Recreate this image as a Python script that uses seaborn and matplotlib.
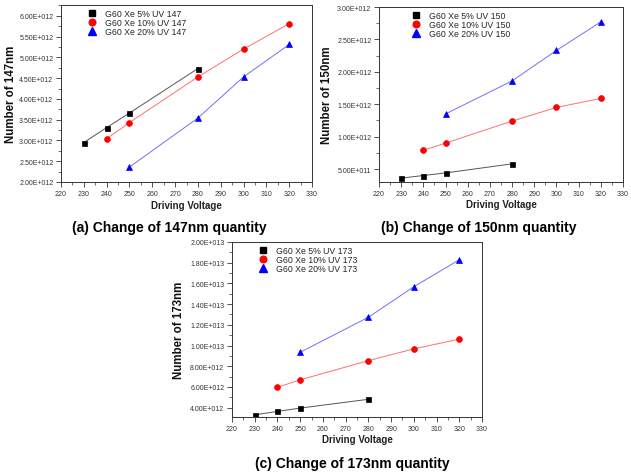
import matplotlib
matplotlib.use("Agg")
import matplotlib.pyplot as plt
from matplotlib.lines import Line2D
from matplotlib.ticker import MultipleLocator, FuncFormatter
import pandas as pd
import seaborn as sns

# data (values in photons, x = driving voltage)
volt_5 = [230, 240, 250, 280]
volt_10 = [240, 250, 280, 300, 320]
volt_20 = [250, 280, 300, 320]

uv147_5 = [2.95e12, 3.31e12, 3.66e12, 4.73e12]
uv147_10 = [3.04e12, 3.43e12, 4.53e12, 5.20e12, 5.81e12]
uv147_20 = [2.36e12, 3.54e12, 4.53e12, 5.31e12]

uv150_5 = [0.36e12, 0.40e12, 0.44e12, 0.58e12]
uv150_10 = [0.79e12, 0.90e12, 1.24e12, 1.45e12, 1.59e12]
uv150_20 = [1.35e12, 1.86e12, 2.33e12, 2.77e12]

uv173_5 = [3.31e12, 3.64e12, 3.96e12, 4.81e12]
uv173_10 = [5.97e12, 6.69e12, 8.54e12, 9.68e12, 10.62e12]
uv173_20 = [9.35e12, 12.73e12, 15.68e12, 18.28e12]

series_names = ["G60 Xe 5% UV", "G60 Xe 10% UV", "G60 Xe 20% UV"]
captions = ["(a) Change of 147nm quantity", "(b) Change of 150nm quantity",
            "(c) Change of 173nm quantity"]
wavelengths = ["147", "150", "173"]

sns.set_style("ticks")
plt.rcParams["font.family"] = ["Liberation Sans", "DejaVu Sans"]

W, H = 631, 477
fig = plt.figure(figsize=(W / 100, H / 100), dpi=100)


def px_axes(left, top, right, bottom):
    return fig.add_axes([left / W, 1 - bottom / H, (right - left) / W, (bottom - top) / H])


def sci_fmt(v, pos):
    if v <= 0:
        return ""
    m, e = f"{v:.2E}".split("E")
    return f"{m}E{e[0]}{int(e[1:]):03d}"


line_cols = ["#555555", "#ff7070", "#7070ff"]
mark_cols = ["black", "red", "blue"]
markers = ["s", "o", "^"]
msizes = [3.6, 4.2, 4.6]

panels = [
    dict(box=(61, 6, 312, 183), ylim=(2.0e12, 6.26e12), major=0.5e12, minor=0.25e12,
         data=[uv147_5, uv147_10, uv147_20], leg=(0.107, 0.975), ylab=-0.175,
         cap=(169, 228)),
    dict(box=(379, 8, 623, 183), ylim=(0.3e12, 3.0e12), major=0.5e12, minor=0.25e12,
         data=[uv150_5, uv150_10, uv150_20], leg=(0.135, 0.975), ylab=-0.19,
         cap=(479, 228)),
    dict(box=(232, 243, 482, 418), ylim=(3.1e12, 2.0e13), major=2e12, minor=1e12,
         data=[uv173_5, uv173_10, uv173_20], leg=(0.107, 0.975), ylab=-0.19,
         cap=(352, 464)),
]
volts = [volt_5, volt_10, volt_20]

for p, wl, cap in zip(panels, wavelengths, captions):
    ax = px_axes(*p["box"])
    for i, (x, y) in enumerate(zip(volts, p["data"])):
        df = pd.DataFrame({"voltage": x, "count": y})
        sns.lineplot(data=df, x="voltage", y="count", ax=ax, color=line_cols[i],
                     linewidth=0.7, marker=markers[i], markersize=msizes[i],
                     markerfacecolor=mark_cols[i], markeredgecolor=mark_cols[i],
                     markeredgewidth=0.5)
    ax.set_xlim(220, 330)
    ax.set_ylim(*p["ylim"])
    ax.xaxis.set_major_locator(MultipleLocator(10))
    ax.xaxis.set_minor_locator(MultipleLocator(5))
    ax.yaxis.set_major_locator(MultipleLocator(p["major"]))
    ax.yaxis.set_minor_locator(MultipleLocator(p["minor"]))
    ax.yaxis.set_major_formatter(FuncFormatter(sci_fmt))
    ax.tick_params(which="major", length=3.5, width=0.6, labelsize=5, pad=2,
                   color="#333333", labelcolor="#333333")
    ax.tick_params(which="minor", length=2, width=0.5, color="#333333")
    for s in ax.spines.values():
        s.set_visible(True)
        s.set_linewidth(0.7)
        s.set_color("#333333")

    ax.set_xlabel("Driving Voltage", fontsize=7, fontweight="bold", color="#222222")
    ax.set_ylabel(f"Number of {wl}nm", fontsize=8.3, fontweight="bold", color="#111111")
    ax.xaxis.set_label_coords(0.5, -0.10)
    ax.yaxis.set_label_coords(p["ylab"], 0.5)

    handles = [Line2D([], [], linestyle="none", marker=markers[i], markersize=msizes[i] + 0.6,
                      color=mark_cols[i]) for i in range(3)]
    labels = [f"{n} {wl}" for n in series_names]
    ax.legend(handles, labels, loc="upper left", bbox_to_anchor=p["leg"], frameon=False,
              fontsize=6.3, handlelength=1.0, handletextpad=1.0, labelspacing=0.0,
              borderpad=0, borderaxespad=0)

    cx, cy = p["cap"]
    fig.text(cx / W, 1 - cy / H, cap, ha="center", va="center", fontsize=10,
             fontweight="bold", color="black")

fig.savefig("out.png", dpi=100)
